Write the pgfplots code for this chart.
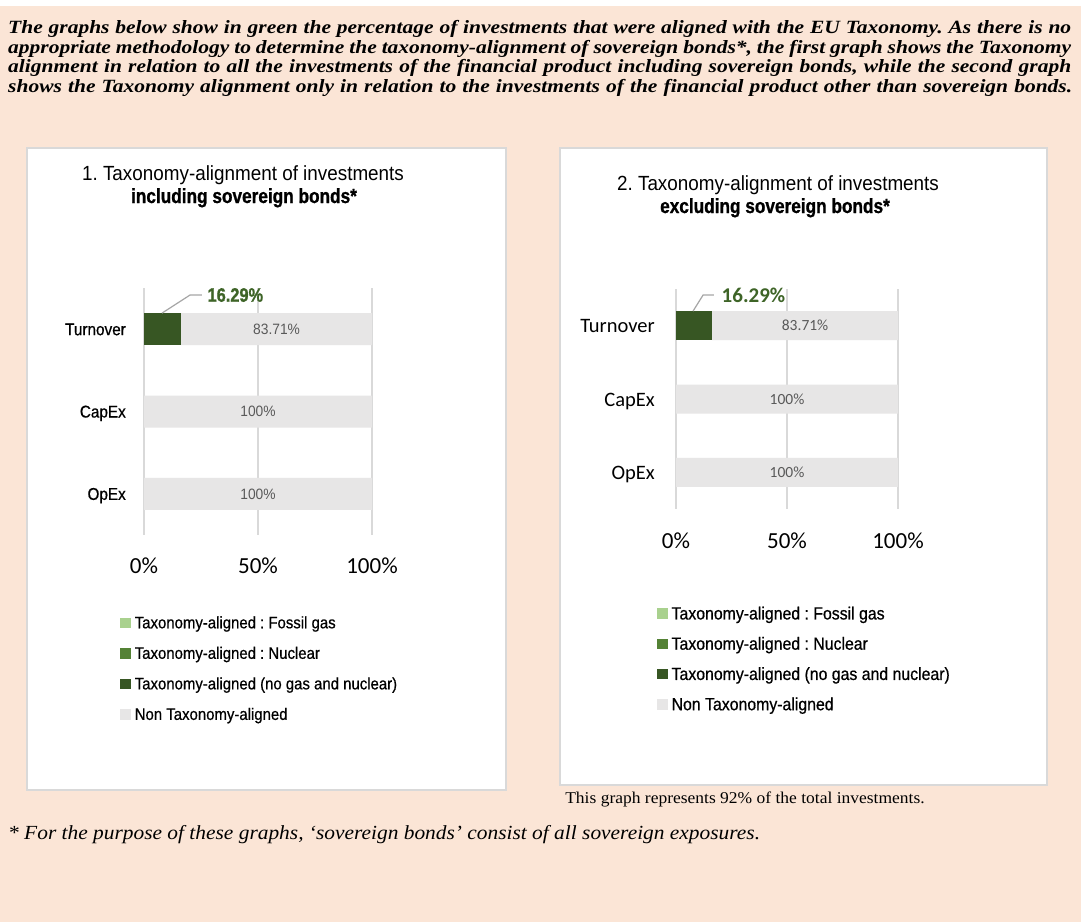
\documentclass[border=0pt]{standalone}
\usepackage{fontspec}
\usepackage{pgfplots}
\pgfplotsset{compat=1.18}
\setmainfont{Liberation Serif}
\newfontfamily\serifw[FakeStretch=1.07]{Liberation Serif}
\newfontfamily\serift[FakeStretch=1.15]{Liberation Serif}
\newfontfamily\serifc[FakeStretch=1.06]{Liberation Serif}
\newfontfamily\cond[FakeStretch=0.92]{Liberation Sans}
\newfontfamily\condm[FakeStretch=0.9, FakeBold=0.6]{Liberation Sans}
\newfontfamily\condb[FakeStretch=0.84, FakeBold=1]{Liberation Sans Bold}
\newfontfamily\carl{Carlito}
\newcommand\fs[1]{\fontsize{#1}{#1}\selectfont}
\frenchspacing

\definecolor{peach}{HTML}{FBE5D6}
\definecolor{panelgray}{HTML}{D9D9D9}
\definecolor{gridgray}{HTML}{D9D9D9}
\definecolor{nonal}{HTML}{E7E6E6}
\definecolor{aligned}{HTML}{375623}
\definecolor{nuclear}{HTML}{548235}
\definecolor{gas}{HTML}{A9D18E}
\definecolor{lblgreen}{HTML}{3E6427}
\definecolor{lblgray}{HTML}{595959}
\definecolor{leader}{HTML}{A6A6A6}

\pgfplotsset{
  taxo/.style={
    scale only axis, xbar stacked, clip=false,
    xmin=0, xmax=100, ymin=-0.5, ymax=2.5, y dir=reverse,
    ytick={0,1,2}, yticklabels={Turnover,CapEx,OpEx},
    xtick={0,50,100}, xticklabels={0\%,50\%,100\%},
    xmajorgrids, grid style={draw=gridgray, line width=1.3pt},
    axis line style={draw=none}, major tick length=0pt,
    tick label style={inner sep=0pt},
    legend cell align=left,
  },
  sq/.style={legend image code/.code={\fill[##1] (0pt,-5pt) rectangle (10.5pt,5.5pt);}},
}

\begin{document}
\begin{tikzpicture}
\fill[white] (0pt,0pt) rectangle (1081pt,-922pt);
\fill[peach] (0pt,-6pt) rectangle (1081pt,-922pt);

% intro text
\begin{scope}[every node/.style={anchor=base west, inner sep=0pt, font=\serift\fs{18.7}\bfseries\itshape}]
\node at (8pt,-33pt) {\makebox[1063pt][s]{The graphs below show in green the percentage of investments that were aligned with the EU Taxonomy. As there is no}};
\node at (8pt,-53pt) {\makebox[1063pt][s]{appropriate methodology to determine the taxonomy-alignment of sovereign bonds*, the first graph shows the Taxonomy}};
\node at (8pt,-72.5pt) {\makebox[1063pt][s]{alignment in relation to all the investments of the financial product including sovereign bonds, while the second graph}};
\node at (8pt,-92pt) {\makebox[1064pt][s]{shows the Taxonomy alignment only in relation to the investments of the financial product other than sovereign bonds.}};
\end{scope}

% panels
\filldraw[fill=white, draw=panelgray, line width=1.5pt] (27pt,-148pt) rectangle (506pt,-790pt);
\filldraw[fill=white, draw=panelgray, line width=1.5pt] (560pt,-148pt) rectangle (1047pt,-785pt);

% titles
\node[anchor=base, inner sep=0pt, font=\cond\fs{20.5}] at (243pt,-180pt) {1. Taxonomy-alignment of investments};
\node[anchor=base, inner sep=0pt, font=\condb\fs{20.5}] at (244pt,-203pt) {including sovereign bonds*};
\node[anchor=base, inner sep=0pt, font=\cond\fs{20.5}] at (778pt,-190pt) {2. Taxonomy-alignment of investments};
\node[anchor=base, inner sep=0pt, font=\condb\fs{20.5}] at (775pt,-213pt) {excluding sovereign bonds*};

% chart 1
\begin{axis}[taxo, at={(144pt,-535pt)}, anchor=south west,
  width=228pt, height=247pt, bar width=32pt,
  yticklabel style={font=\condm\fs{17}, anchor=base east, xshift=-18pt, yshift=-6pt},
  xticklabel style={font=\carl\fs{23}, anchor=base, yshift=-38pt},
  legend style={draw=none, fill=none, at={(axis description cs:-0.105,-0.32)}, anchor=north west,
    font=\condm\fs{16.6}, row sep=13pt, inner sep=0pt, nodes={inner sep=2pt},
    /tikz/every odd column/.append style={column sep=2pt}},
]
\addplot[fill=gas, draw=none, sq] coordinates {(0,0) (0,1) (0,2)};
\addplot[fill=nuclear, draw=none, sq] coordinates {(0,0) (0,1) (0,2)};
\addplot[fill=aligned, draw=none, sq] coordinates {(16.29,0) (0,1) (0,2)};
\addplot[fill=nonal, draw=none, sq] coordinates {(83.71,0) (100,1) (100,2)};
\legend{Taxonomy-aligned : Fossil gas, Taxonomy-aligned : Nuclear, Taxonomy-aligned (no gas and nuclear), Non Taxonomy-aligned}
\coordinate (a1t) at (axis cs:58.145,0);
\coordinate (a1c) at (axis cs:50,1);
\coordinate (a1o) at (axis cs:50,2);
\coordinate (a1p) at (axis cs:7.9,-0.195);
\coordinate (a1q) at (axis cs:20.2,-0.415);
\coordinate (a1r) at (axis cs:25.4,-0.415);
\coordinate (a1l) at (axis cs:27.8,-0.415);
\end{axis}

% chart 2
\begin{axis}[taxo, at={(676pt,-509pt)}, anchor=south west,
  width=222pt, height=220pt, bar width=29pt,
  yticklabel style={font=\carl\fs{20.5}, anchor=base east, xshift=-21pt, yshift=-7pt},
  xticklabel style={font=\carl\fs{23}, anchor=base, yshift=-39.5pt},
  legend style={draw=none, fill=none, at={(axis description cs:-0.086,-0.434)}, anchor=north west,
    font=\condm\fs{17.6}, row sep=12pt, inner sep=0pt, nodes={inner sep=2pt},
    /tikz/every odd column/.append style={column sep=2pt}},
]
\addplot[fill=gas, draw=none, sq] coordinates {(0,0) (0,1) (0,2)};
\addplot[fill=nuclear, draw=none, sq] coordinates {(0,0) (0,1) (0,2)};
\addplot[fill=aligned, draw=none, sq] coordinates {(16.29,0) (0,1) (0,2)};
\addplot[fill=nonal, draw=none, sq] coordinates {(83.71,0) (100,1) (100,2)};
\legend{Taxonomy-aligned : Fossil gas, Taxonomy-aligned : Nuclear, Taxonomy-aligned (no gas and nuclear), Non Taxonomy-aligned}
\coordinate (a2t) at (axis cs:58.145,0);
\coordinate (a2c) at (axis cs:50,1);
\coordinate (a2o) at (axis cs:50,2);
\coordinate (a2p) at (axis cs:7.66,-0.198);
\coordinate (a2q) at (axis cs:12.2,-0.418);
\coordinate (a2r) at (axis cs:17.1,-0.418);
\coordinate (a2l) at (axis cs:20.5,-0.418);
\end{axis}

% data labels
\node[font=\cond\fs{15}, text=lblgray] at (a1t) {83.71\%};
\node[font=\cond\fs{15}, text=lblgray] at (a1c) {100\%};
\node[font=\cond\fs{15}, text=lblgray] at (a1o) {100\%};
\draw[leader, line width=1.2pt] (a1p) -- (a1q) -- (a1r);
\node[anchor=west, inner sep=0pt, font=\condb\fs{19.5}, text=lblgreen] at (a1l) {16.29\%};

\node[font=\carl\fs{15.5}, text=lblgray] at (a2t) {83.71\%};
\node[font=\carl\fs{15.5}, text=lblgray] at (a2c) {100\%};
\node[font=\carl\fs{15.5}, text=lblgray] at (a2o) {100\%};
\draw[leader, line width=1.2pt] (a2p) -- (a2q) -- (a2r);
\node[anchor=west, inner sep=0pt, font=\carl\fs{21}\bfseries, text=lblgreen] at (a2l) {16.29\%};

% notes
\node[anchor=base, inner sep=0pt, font=\serifc\fs{16.5}] at (745pt,-803pt) {This graph represents 92\% of the total investments.};
\node[anchor=base west, inner sep=0pt, font=\serifw\fs{20}\itshape] at (8pt,-839pt) {* For the purpose of these graphs, ‘sovereign bonds’ consist of all sovereign exposures.};

\pgfresetboundingbox
\path (0pt,0pt) rectangle (1081pt,-922pt);
\end{tikzpicture}
\end{document}
